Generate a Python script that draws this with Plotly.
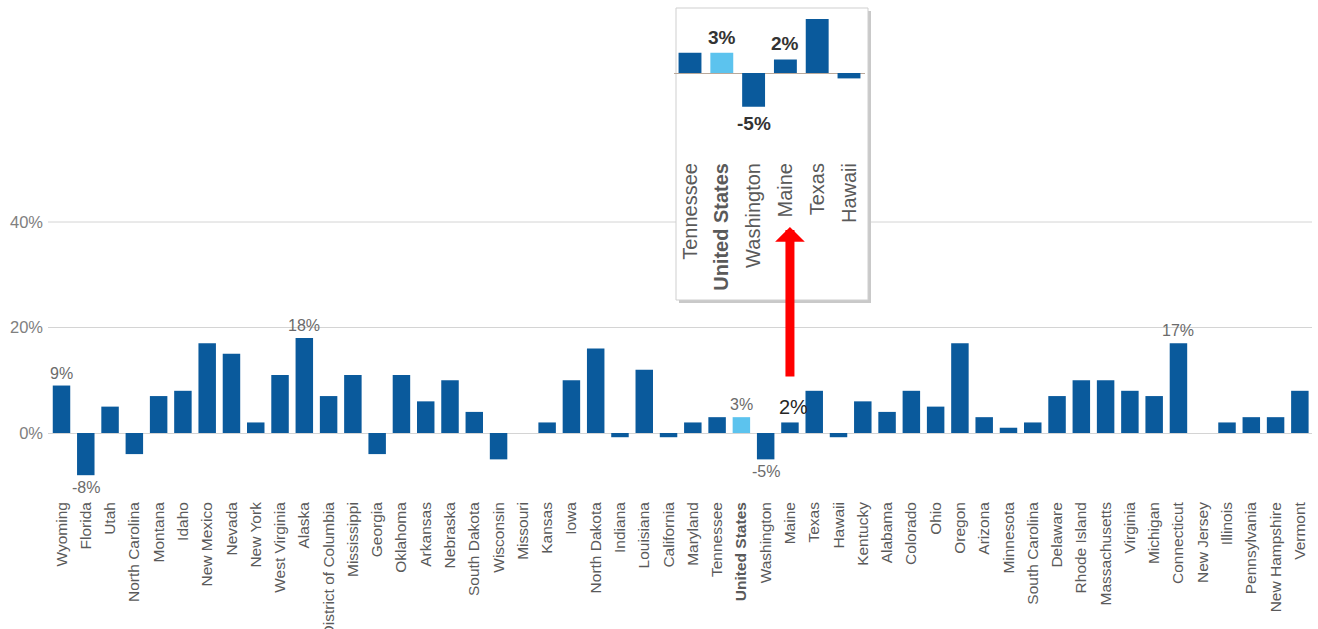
import plotly.graph_objects as go

# Annual change by state (percent)
states = [
    "Wyoming", "Florida", "Utah", "North Carolina", "Montana", "Idaho", "New Mexico",
    "Nevada", "New York", "West Virginia", "Alaska", "District of Columbia", "Mississippi",
    "Georgia", "Oklahoma", "Arkansas", "Nebraska", "South Dakota", "Wisconsin", "Missouri",
    "Kansas", "Iowa", "North Dakota", "Indiana", "Louisiana", "California", "Maryland",
    "Tennessee", "United States", "Washington", "Maine", "Texas", "Hawaii", "Kentucky",
    "Alabama", "Colorado", "Ohio", "Oregon", "Arizona", "Minnesota", "South Carolina",
    "Delaware", "Rhode Island", "Massachusetts", "Virginia", "Michigan", "Connecticut",
    "New Jersey", "Illinois", "Pennsylvania", "New Hampshire", "Vermont",
]
growth = [
    9, -8, 5, -4, 7, 8, 17,
    15, 2, 11, 18, 7, 11,
    -4, 11, 6, 10, 4, -5, 0,
    2, 10, 16, -0.8, 12, -0.8, 2,
    3, 3, -5, 2, 8, -0.8, 6,
    4, 8, 5, 17, 3, 1, 2,
    7, 10, 10, 8, 7, 17,
    0, 2, 3, 3, 8,
]
labeled_states = ["Wyoming", "Florida", "Alaska", "United States", "Washington", "Maine", "Connecticut"]
inset_states = ["Tennessee", "United States", "Washington", "Maine", "Texas", "Hawaii"]
inset_labeled = ["United States", "Washington", "Maine"]
highlight = "United States"
focus = "Maine"

y_ticks = [0, 20, 40]

DARK = "#0a5a9c"
LIGHT = "#5cc3ee"
FONT = "Liberation Sans, Arial, sans-serif"

W, H = 1318, 629
L, R, T, B = 48, 6, 0, 133
PW, PH = W - L - R, H - T - B


def fx(px):
    return (px - L) / PW


def fy(py):
    return (T + PH - py) / PH


value_of = dict(zip(states, growth))


def colors(names):
    return [LIGHT if n == highlight else DARK for n in names]


def tick_text(names):
    return [f"<b>{n}</b>" if n == highlight else n for n in names]


fig = go.Figure()

fig.add_trace(go.Bar(
    x=states, y=growth, marker=dict(color=colors(states), line=dict(width=0)),
    xaxis="x", yaxis="y", hoverinfo="x+y",
))

inset_vals = [value_of[s] for s in inset_states]
fig.add_trace(go.Bar(
    x=inset_states, y=inset_vals, marker=dict(color=colors(inset_states), line=dict(width=0)),
    xaxis="x2", yaxis="y2", hoverinfo="x+y",
))

shapes = []
# horizontal gridlines (drawn as shapes so the inset panel can sit over them)
for v in y_ticks[1:]:
    shapes.append(dict(type="line", xref="paper", yref="y", x0=0, x1=1, y0=v, y1=v,
                       line=dict(color="#d4d4d4", width=1), layer="below"))
# inset panel: shadow then white card
shapes.append(dict(type="rect", xref="paper", yref="paper",
                   x0=fx(679), x1=fx(871), y0=fy(303), y1=fy(11),
                   fillcolor="#c9c9c9", line=dict(width=0), layer="below"))
shapes.append(dict(type="rect", xref="paper", yref="paper",
                   x0=fx(676), x1=fx(868), y0=fy(300), y1=fy(8),
                   fillcolor="white", line=dict(color="#cfcfcf", width=1), layer="below"))

annotations = []
for s in labeled_states:
    v = value_of[s]
    big = s == focus
    annotations.append(dict(
        x=s, y=v, xref="x", yref="y", text=f"{v:.0f}%", showarrow=False,
        yanchor="bottom" if v >= 0 else "top", yshift=2 if v >= 0 else -2,
        xshift=4 if big else 0,
        font=dict(family=FONT, size=20 if big else 16, color="#262626" if big else "#6b6b6b"),
    ))
for s in inset_labeled:
    v = value_of[s]
    annotations.append(dict(
        x=s, y=v, xref="x2", yref="y2", text=f"<b>{v:.0f}%</b>", showarrow=False,
        yanchor="bottom" if v >= 0 else "top", yshift=3 if v >= 0 else -4,
        font=dict(family=FONT, size=19, color="#333333"),
    ))
# red pointer from the Maine bar up to the zoomed panel
annotations.append(dict(
    x=focus, xref="x", y=fy(227), yref="paper", ax=0, ay=151, axref="pixel", ayref="pixel",
    text="", showarrow=True, arrowhead=1, arrowsize=0.55, arrowwidth=9,
    arrowcolor="#ff0000", standoff=0, startstandoff=0,
))

fig.update_layout(
    width=W, height=H,
    margin=dict(l=L, r=R, t=T, b=B, autoexpand=False),
    paper_bgcolor="white", plot_bgcolor="rgba(0,0,0,0)",
    showlegend=False, bargap=0.28,
    font=dict(family=FONT, color="#595959"),
    xaxis=dict(
        domain=[0, 1], anchor="y", type="category",
        tickmode="array", tickvals=states, ticktext=tick_text(states),
        tickangle=-90, tickfont=dict(size=15.5, color="#5a5a5a"), ticklabelstandoff=2,
        showgrid=False, zeroline=False, showline=False, ticks="", automargin=False,
    ),
    yaxis=dict(
        domain=[0, 1], anchor="x",
        range=[-(T + PH - 433) / 5.275, (433 - T) / 5.275],
        tickmode="array", tickvals=y_ticks, ticktext=[f"{v}%" for v in y_ticks],
        tickfont=dict(size=16.5, color="#808080"), ticklabelstandoff=4,
        showgrid=False, zeroline=True, zerolinecolor="#d4d4d4", zerolinewidth=1,
        showline=False, ticks="", automargin=False,
    ),
    xaxis2=dict(
        domain=[fx(674.1), fx(864.9)], anchor="y2", type="category",
        tickmode="array", tickvals=inset_states, ticktext=tick_text(inset_states),
        tickangle=-90, tickfont=dict(size=20, color="#5a5a5a"),
        showgrid=False, zeroline=False, showline=False, ticks="", automargin=False,
    ),
    yaxis2=dict(
        domain=[fy(158), fy(12)], anchor="x2",
        range=[-(158 - 73) / 6.75, (73 - 12) / 6.75],
        showticklabels=False, showgrid=False, zeroline=True,
        zerolinecolor="#b9a89a", zerolinewidth=1, showline=False, ticks="", automargin=False,
    ),
    shapes=shapes,
    annotations=annotations,
)

fig.write_html("out.html")
